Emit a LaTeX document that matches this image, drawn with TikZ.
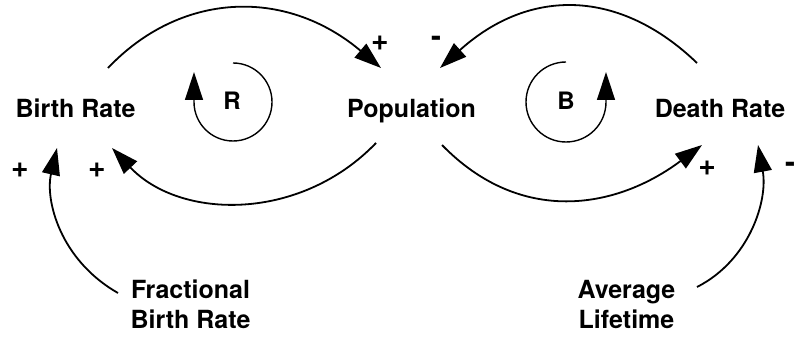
\documentclass[tikz,border=0pt]{standalone}
\usepackage{fontspec}
\setmainfont{TeX Gyre Heros}
\usetikzlibrary{arrows.meta}
\begin{document}
\begin{tikzpicture}[x=1pt,y=1pt,
  lbl/.style={font=\fontsize{25}{30}\selectfont\bfseries, inner sep=0pt, anchor=base, align=center},
  looplbl/.style={font=\fontsize{24}{24}\selectfont\bfseries, inner sep=0pt, anchor=base},
  sgn/.style={font=\fontsize{30}{30}\selectfont\bfseries, inner sep=0pt},
  link/.style={line width=1.8pt, -{Triangle[length=27pt,width=18pt]}},
  loopline/.style={line width=1.4pt, -{Triangle[length=28pt,width=18pt]}}]
\useasboundingbox (0,0) rectangle (799,337);
\fill[white] (0,0) rectangle (799,337);
% variables
\node[lbl] (br) at (75.5,219) {Birth Rate};
\node[lbl] (pop) at (411.5,219) {Population};
\node[lbl] (dr) at (720,219) {Death Rate};
\node[lbl] (fbr) at (190.5,9) {Fractional\\Birth Rate};
\node[lbl] (al) at (626.5,9) {Average\\Lifetime};
% loop labels
\node[looplbl] (R) at (232,227) {R};
\node[looplbl] (B) at (566,227) {B};
% connector end points
\coordinate (brTop) at (108,269);
\coordinate (popInL) at (381,269);
\coordinate (drTop) at (697,274);
\coordinate (popInR) at (440,269);
\coordinate (popOutL) at (376,194);
\coordinate (brIn) at (112,189);
\coordinate (popOutR) at (442,192);
\coordinate (drIn) at (702,192);
\coordinate (fbrOut) at (118,44);
\coordinate (brInB) at (57,189);
\coordinate (alOut) at (697,50);
\coordinate (drInB) at (758,192);
% links
\draw[link] (brTop) .. controls (180,345) and (285,350) .. (popInL);
\draw[link] (drTop) .. controls (620,348) and (530,350) .. (popInR);
\draw[link] (popOutL) .. controls (300,115) and (180,117) .. (brIn);
\draw[link] (popOutR) .. controls (520,112) and (615,127) .. (drIn);
\draw[link] (fbrOut) .. controls (60,77) and (45,137) .. (brInB);
\draw[link] (alOut) .. controls (750,77) and (768,137) .. (drInB);
% loop symbols
\draw[loopline] (233,274) arc[start angle=90, end angle=-180, radius=39pt] -- (194,265);
\draw[loopline] (566,275) arc[start angle=90, end angle=360, radius=40pt] -- (606,265);
% polarities
\node[sgn] (s1) at (380,294) {+};
\node[sgn] (s2) at (20,167) {+};
\node[sgn] (s3) at (97,167) {+};
\node[sgn] (s4) at (436,296) {-};
\node[sgn] (s5) at (707,169) {+};
\node[sgn] (s6) at (790,170) {-};
\end{tikzpicture}
\end{document}
